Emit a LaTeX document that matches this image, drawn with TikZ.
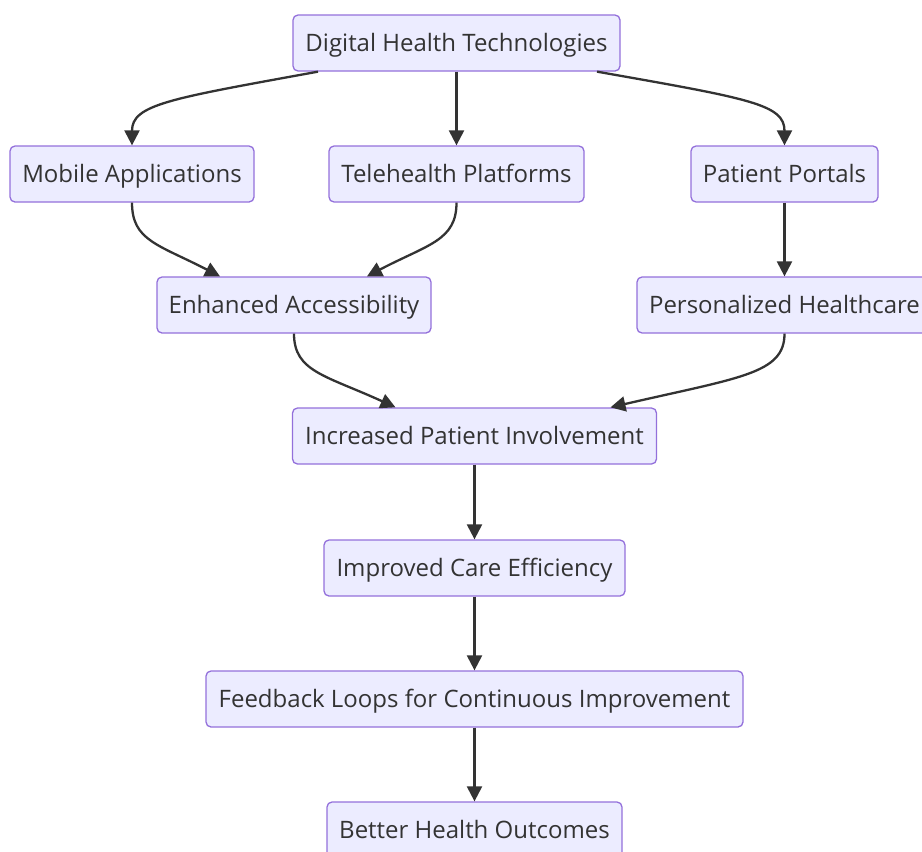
\documentclass[tikz,border=0pt]{standalone}
\usepackage{fontspec}
\setmainfont{Open Sans}
\usetikzlibrary{arrows.meta}
\definecolor{boxfill}{HTML}{ECECFF}
\definecolor{boxline}{HTML}{9370DB}
\definecolor{ink}{HTML}{333333}
\tikzset{
  flowbox/.style={draw=boxline, fill=boxfill, line width=1.3pt, rounded corners=5pt,
    minimum height=56pt, inner sep=0pt, text=ink, text height=17.2pt, text depth=0pt,
    font=\fontsize{24}{28}\selectfont},
  link/.style={draw=ink, line width=2.3pt, -{Triangle[length=15pt,width=15pt]}}
}
\begin{document}
\begin{tikzpicture}[x=1pt,y=1pt]
  \useasboundingbox (0,0) rectangle (922,-852);
  \clip (0,0) rectangle (922,-852);

  % boxes, top to bottom
  \node[flowbox, minimum width=327pt] (dht) at (456.5,-43) {Digital Health Technologies};
  \node[flowbox, minimum width=244pt] (mob) at (132,-174) {Mobile Applications};
  \node[flowbox, minimum width=255pt] (tel) at (456.5,-174) {Telehealth Platforms};
  \node[flowbox, minimum width=187pt] (por) at (784.5,-174) {Patient Portals};
  \node[flowbox, minimum width=274pt] (acc) at (294,-305) {Enhanced Accessibility};
  \node[flowbox, minimum width=295pt] (per) at (784.5,-305) {Personalized Healthcare};
  \node[flowbox, minimum width=364pt] (inv) at (474.5,-436) {Increased Patient Involvement};
  \node[flowbox, minimum width=301pt] (eff) at (474.5,-568) {Improved Care Efficiency};
  \node[flowbox, minimum width=537pt] (fbl) at (474.5,-699) {Feedback Loops for Continuous Improvement};
  \node[flowbox, minimum width=295pt] (out) at (474.5,-830) {Better Health Outcomes};

  % connectors
  \draw[link] ([xshift=-138.5pt]dht.south) .. controls +(-148,-27) and +(0,41) .. (mob.north);
  \draw[link] (dht.south) -- (tel.north);
  \draw[link] ([xshift=140.5pt]dht.south) .. controls +(153,-27) and +(0,41) .. (por.north);

  \draw[link] (mob.south) .. controls +(0,-38) and +(-62,32) .. ([xshift=-74pt]acc.north);
  \draw[link] (tel.south) .. controls +(0,-38) and +(61,32) .. ([xshift=73pt]acc.north);
  \draw[link] (por.south) -- (per.north);

  \draw[link] (acc.south) .. controls +(0,-38) and +(-70,32) .. ([xshift=-79pt]inv.north);
  \draw[link] (per.south) .. controls +(0,-40) and +(130,30) .. ([xshift=136pt]inv.north);

  \draw[link] (inv.south) -- (eff.north);
  \draw[link] (eff.south) -- (fbl.north);
  \draw[link] (fbl.south) -- (out.north);
\end{tikzpicture}
\end{document}
